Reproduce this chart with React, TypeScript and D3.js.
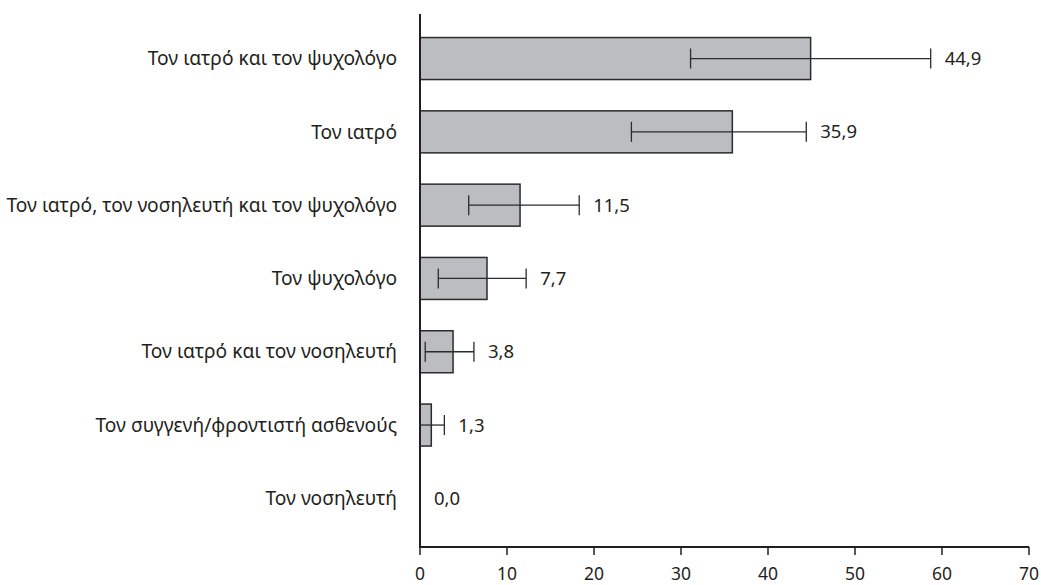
import React from "react";
import * as d3 from "d3";

const categories = [
  "Τον ιατρό και τον ψυχολόγο",
  "Τον ιατρό",
  "Τον ιατρό, τον νοσηλευτή και τον ψυχολόγο",
  "Τον ψυχολόγο",
  "Τον ιατρό και τον νοσηλευτή",
  "Τον συγγενή/φροντιστή ασθενούς",
  "Τον νοσηλευτή",
];
const values = [44.9, 35.9, 11.5, 7.7, 3.8, 1.3, 0.0];
const errLow: (number | null)[] = [31.1, 24.3, 5.6, 2.1, 0.6, 0.0, null];
const errHigh: (number | null)[] = [58.7, 44.4, 18.3, 12.2, 6.2, 2.8, null];
const xTicks = [0, 10, 20, 30, 40, 50, 60, 70];

const W = 1041;
const H = 585;
const FONT = "'Noto Sans', 'Open Sans', sans-serif";
const INK = "#231f20";

export default function App() {
  const x = d3.scaleLinear().domain([0, 70]).range([420, 1029]);
  const y = d3
    .scaleBand<string>()
    .domain(categories)
    .range([21.9, 535])
    .paddingInner(0.427)
    .paddingOuter(0.2135);
  const bw = y.bandwidth();
  const axisY = 547;
  const fmt = (v: number) => v.toFixed(1).replace(".", ",");

  return (
    <svg
      width={W}
      height={H}
      style={{ position: "absolute", left: 0, top: 0, background: "#fff" }}
    >
      {categories.map((c, i) => {
        const y0 = y(c)!;
        const cy = y0 + bw / 2;
        const v = values[i];
        const lo = errLow[i];
        const hi = errHigh[i];
        const labelX = Math.max(x(v), hi != null ? x(hi) : x(v)) + 14;
        return (
          <g key={c}>
            {v > 0 && (
              <rect
                x={x(0)}
                y={y0}
                width={x(v) - x(0)}
                height={bw}
                fill="#bcbdc0"
                stroke="#2b2b2b"
                strokeWidth={1.5}
              />
            )}
            {lo != null && hi != null && (
              <g stroke="#2b2b2b" strokeWidth={1.3}>
                <line x1={x(lo)} x2={x(hi)} y1={cy} y2={cy} />
                <line x1={x(lo)} x2={x(lo)} y1={cy - 10} y2={cy + 10} />
                <line x1={x(hi)} x2={x(hi)} y1={cy - 10} y2={cy + 10} />
              </g>
            )}
            <text
              x={labelX}
              y={cy}
              dy="0.35em"
              fontFamily={FONT}
              fontSize={18.5}
              fill={INK}
            >
              {fmt(v)}
            </text>
            <text
              x={397}
              y={cy}
              dy="0.35em"
              textAnchor="end"
              fontFamily={FONT}
              fontSize={19.2}
              fill={INK}
            >
              {c}
            </text>
          </g>
        );
      })}

      {/* value axis */}
      <line x1={x(0)} x2={x(70)} y1={axisY} y2={axisY} stroke={INK} strokeWidth={2} />
      {xTicks.map((t) => (
        <g key={t}>
          <line x1={x(t)} x2={x(t)} y1={axisY} y2={axisY + 8} stroke={INK} strokeWidth={1.5} />
          <text
            x={x(t)}
            y={580}
            textAnchor="middle"
            fontFamily={FONT}
            fontSize={17.5}
            fill={INK}
          >
            {t}
          </text>
        </g>
      ))}

      {/* category axis */}
      <line x1={x(0)} x2={x(0)} y1={14} y2={axisY + 1} stroke={INK} strokeWidth={2} />
    </svg>
  );
}
